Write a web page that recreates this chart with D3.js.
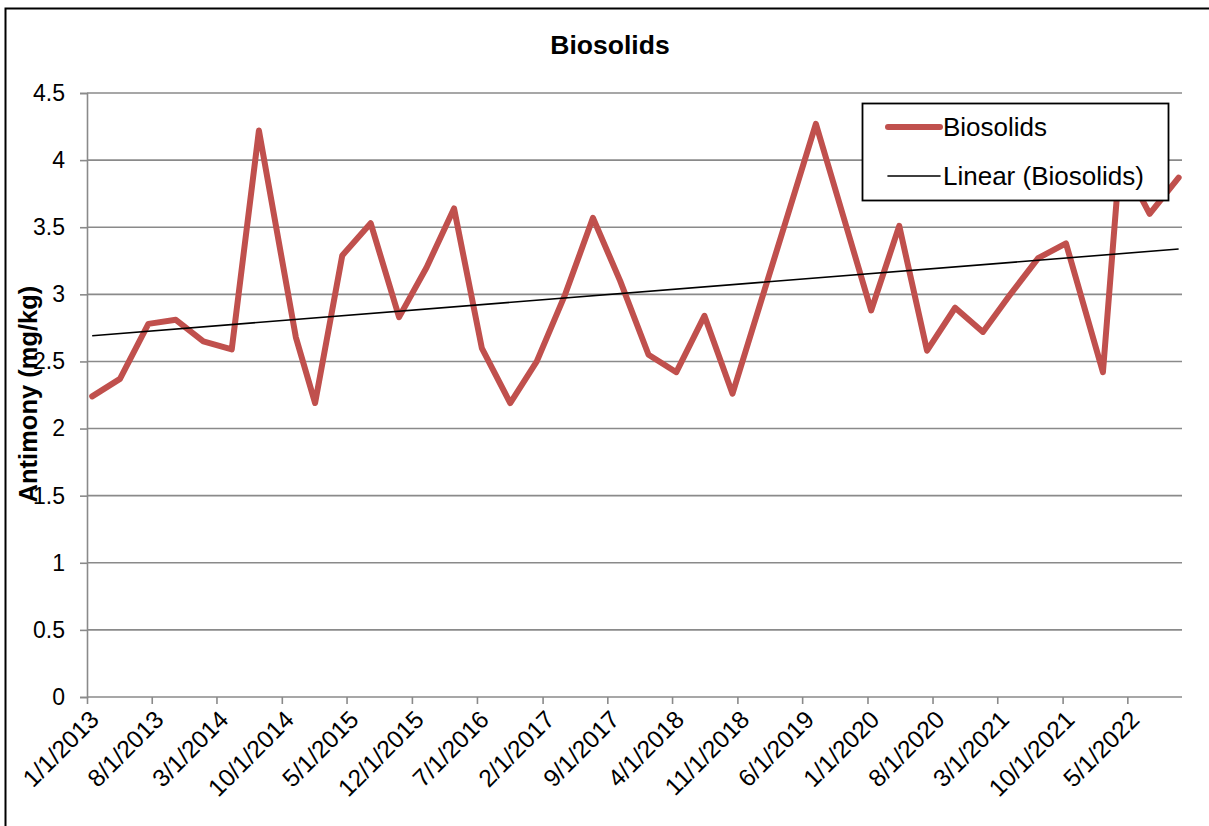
<!DOCTYPE html>
<html>
<head>
<meta charset="utf-8">
<script src="https://cdn.jsdelivr.net/npm/d3@7"></script>
<style>
  body { margin: 0; background: #fff; }
  text { font-family: "Liberation Sans", Arial, sans-serif; fill: #000; }
</style>
</head>
<body>
<svg></svg>
<script>
// sample dates (m/d/yyyy) and antimony values
var sampleDates = ["1/18/2013","4/19/2013","7/21/2013","10/19/2013","1/17/2014","4/20/2014",
  "7/18/2014","11/16/2014","1/18/2015","4/17/2015","7/19/2015","10/20/2015",
  "1/18/2016","4/17/2016","7/17/2016","10/18/2016","1/13/2017","4/16/2017",
  "7/16/2017","10/13/2017","1/14/2018","4/15/2018","7/16/2018","10/16/2018",
  "1/15/2019","4/16/2019","7/16/2019","10/14/2019","1/13/2020","4/14/2020",
  "7/14/2020","10/14/2020","1/13/2021","4/13/2021","7/13/2021","10/12/2021",
  "2/10/2022","4/7/2022","7/13/2022","10/16/2022"];

var biosolids = [2.24,2.37,2.78,2.81,2.65,2.59,
  4.22,2.68,2.19,3.29,3.53,2.83,
  3.20,3.64,2.60,2.19,2.50,3.00,
  3.57,3.10,2.55,2.42,2.84,2.26,
  2.93,3.60,4.27,3.58,2.88,3.51,
  2.58,2.90,2.72,3.00,3.27,3.38,
  2.42,4.02,3.60,3.87];

var xTickLabels = ["1/1/2013","8/1/2013","3/1/2014","10/1/2014","5/1/2015","12/1/2015",
  "7/1/2016","2/1/2017","9/1/2017","4/1/2018","11/1/2018","6/1/2019",
  "1/1/2020","8/1/2020","3/1/2021","10/1/2021","5/1/2022"];

var yTicks = [0,0.5,1,1.5,2,2.5,3,3.5,4,4.5];

var drawGraph = function()
{
  var screen = { width:1209, height:826 };

  var svg = d3.select("svg")
              .attr("width",screen.width)
              .attr("height",screen.height);

  var plot = { left:87, right:1182, top:93, bottom:697 };

  var parse = d3.timeParse("%m/%d/%Y");

  var data = sampleDates.map(function(d,i) {
    return { date: parse(d), value: biosolids[i] };
  });

  var xScale = d3.scaleTime()
                 .domain([parse("1/1/2013"), parse("10/27/2022")])
                 .range([plot.left,plot.right]);

  var yScale = d3.scaleLinear()
                 .domain([0,4.5])
                 .range([plot.bottom,plot.top]);

  // outer chart border
  svg.append("rect")
     .attr("x",5.5).attr("y",8.5)
     .attr("width",1215).attr("height",830)
     .attr("fill","white")
     .attr("stroke","#000")
     .attr("stroke-width",2);

  // horizontal gridlines
  svg.append("g")
     .selectAll("line")
     .data(yTicks.filter(function(d) {return d>0}))
     .enter()
     .append("line")
     .attr("x1",plot.left).attr("x2",plot.right)
     .attr("y1",function(d) {return yScale(d)})
     .attr("y2",function(d) {return yScale(d)})
     .attr("stroke","#8a8a8a")
     .attr("stroke-width",1.6);

  // y axis
  var yAxis = d3.axisLeft(yScale)
                .tickValues(yTicks)
                .tickFormat(d3.format(""))
                .tickSizeOuter(0)
                .tickSize(7)
                .tickPadding(15);

  var yG = svg.append("g")
              .attr("transform","translate("+plot.left+",0)")
              .call(yAxis);
  yG.selectAll("path,line").attr("stroke","#8a8a8a").attr("stroke-width",1.6);
  yG.selectAll("text").style("font-size","23px")
    .style("font-family","'Liberation Sans', Arial, sans-serif").attr("fill","#000");

  // x axis
  var xAxis = d3.axisBottom(xScale)
                .tickValues(xTickLabels.map(parse))
                .tickFormat(function(d,i) {return xTickLabels[i]})
                .tickSizeOuter(0)
                .tickSize(7);

  var xG = svg.append("g")
              .attr("transform","translate(0,"+plot.bottom+")")
              .call(xAxis);
  xG.select("path").attr("d","M"+plot.left+",0H"+plot.right);
  xG.selectAll("path,line").attr("stroke","#8a8a8a").attr("stroke-width",1.6);
  xG.selectAll("text")
    .style("font-size","24.5px")
    .style("font-family","'Liberation Sans', Arial, sans-serif")
    .attr("fill","#000")
    .attr("text-anchor","end")
    .attr("dy","0")
    .attr("y",0)
    .attr("transform","translate(13,24) rotate(-45)");

  // data line
  var line = d3.line()
               .x(function(d) {return xScale(d.date)})
               .y(function(d) {return yScale(d.value)});

  svg.append("path")
     .datum(data)
     .attr("d",line)
     .attr("fill","none")
     .attr("stroke","#C0504D")
     .attr("stroke-width",6)
     .attr("stroke-linejoin","round")
     .attr("stroke-linecap","round");

  // linear trendline (least squares on date)
  var xs = data.map(function(d) {return d.date.getTime()});
  var ys = data.map(function(d) {return d.value});
  var mx = d3.mean(xs), my = d3.mean(ys);
  var sxy = d3.sum(xs,function(x,i) {return (x-mx)*(ys[i]-my)});
  var sxx = d3.sum(xs,function(x) {return (x-mx)*(x-mx)});
  var slope = sxy/sxx, icpt = my - slope*mx;
  var ends = [xs[0], xs[xs.length-1]].map(function(t) {
    return { date: new Date(t), value: icpt + slope*t };
  });

  svg.append("path")
     .datum(ends)
     .attr("d",line)
     .attr("fill","none")
     .attr("stroke","#000")
     .attr("stroke-width",1.6);

  // title
  svg.append("text")
     .attr("x",610).attr("y",54)
     .attr("text-anchor","middle")
     .style("font-size","26.5px")
     .style("font-weight","bold")
     .text("Biosolids");

  // y axis title
  svg.append("text")
     .attr("transform","translate(37,394) rotate(-90)")
     .attr("text-anchor","middle")
     .style("font-size","25.5px")
     .style("font-weight","bold")
     .text("Antimony (mg/kg)");

  // legend
  var legend = svg.append("g")
                  .classed("legend",true)
                  .attr("transform","translate(862,103)");

  legend.append("rect")
        .attr("x",0.5).attr("y",0.5)
        .attr("width",306).attr("height",97)
        .attr("fill","white")
        .attr("stroke","#000")
        .attr("stroke-width",1.8);

  var legendItems = [
    { name:"Biosolids", color:"#C0504D", width:6 },
    { name:"Linear (Biosolids)", color:"#000", width:1.6 }
  ];

  var legendLines = legend.selectAll("g")
                          .data(legendItems)
                          .enter()
                          .append("g")
                          .attr("transform",function(d,i) {return "translate(0,"+(24+i*49)+")"});

  legendLines.append("line")
             .attr("x1",26).attr("x2",78)
             .attr("y1",0).attr("y2",0)
             .attr("stroke",function(d) {return d.color})
             .attr("stroke-width",function(d) {return d.width})
             .attr("stroke-linecap","round");

  legendLines.append("text")
             .attr("x",81).attr("y",9)
             .style("font-size","26px")
             .text(function(d) {return d.name});
};

drawGraph();
</script>
</body>
</html>
